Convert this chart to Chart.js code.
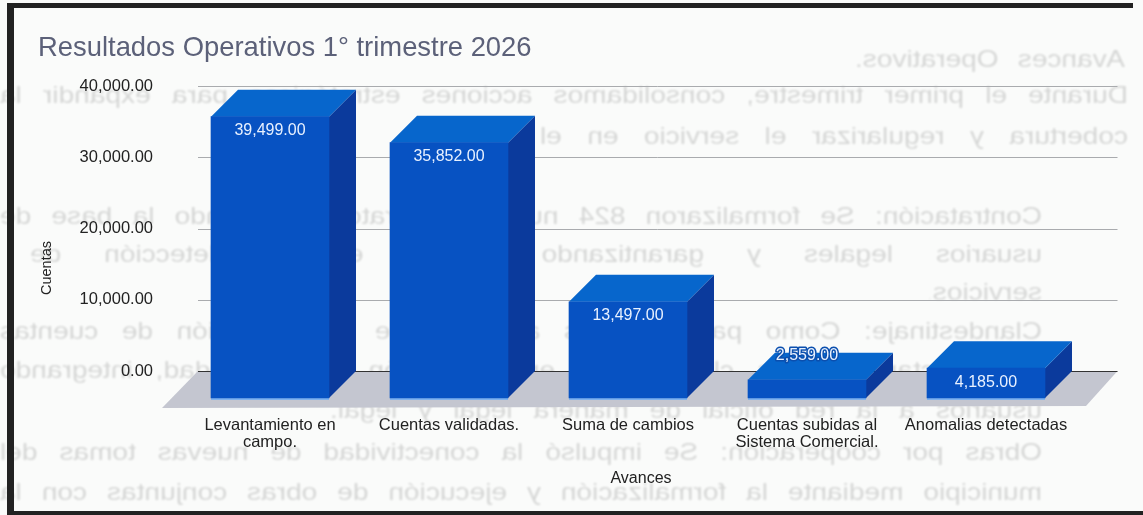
<!DOCTYPE html>
<html lang="es">
<head>
<meta charset="utf-8">
<title>Resultados Operativos 1° trimestre 2026</title>
<script src="https://cdn.jsdelivr.net/npm/chart.js@4"></script>
<style>
html,body{margin:0;padding:0;width:1143px;height:515px;overflow:hidden;background:#fafbfa}
canvas{position:absolute;left:0;top:0;z-index:2}
.ghost{position:absolute;z-index:1;transform-origin:0 0;font:24px "Liberation Sans",Arial,sans-serif;color:#000;opacity:.15;filter:blur(1px);text-align:justify;text-align-last:justify;line-height:30px;height:30px;overflow:hidden}
.frame{position:absolute;background:#222;z-index:3}
</style>
</head>
<body>
<div class="frame" style="left:7px;top:3px;width:7px;height:510px"></div>
<div class="frame" style="left:7px;top:3px;width:1126px;height:5px"></div>
<div class="frame" style="left:7px;top:511px;width:1136px;height:4px"></div>
<canvas id="c" width="1143" height="515"></canvas>
<script>
const categories = [["Levantamiento en","campo."],"Cuentas validadas.","Suma de cambios",["Cuentas subidas al","Sistema Comercial."],"Anomalias detectadas"];
const values = [39499,35852,13497,2559,4185];
const yTicks = [0,10000,20000,30000,40000];
const ghostLines = [
  ["Avances Operativos.",855,270,44],
  ["Durante el primer trimestre, consolidamos acciones estratégicas para expandir la",0,1128,80],
  ["cobertura y regularizar el servicio en el municipio.",540,588,121],
  ["Contratación: Se formalizaron 824 nuevos contratos, ampliando la base de",0,1042,201],
  ["usuarios legales y garantizando certeza en la detección de",30,1012,239],
  ["servicios.",930,112,277],
  ["Clandestinaje: Como parte de las acciones de regularización de cuentas",0,1042,316],
  ["se detectaron tomas clandestinas en el padrón de la ciudad, integrando",0,1042,355],
  ["usuarios a la red oficial de manera legal y legal.",330,712,395],
  ["Obras por cooperación: Se impulsó la conectividad de nuevas tomas del",0,1042,437],
  ["municipio mediante la formalización y ejecución de obras conjuntas con la",0,1042,477]
];
const titleText = "Resultados Operativos 1° trimestre 2026";
const yTitleText = "Cuentas";
const xTitleText = "Avances";
const fontFamily = '"Liberation Sans", Arial, sans-serif';
const STRETCH = 1.17;

ghostLines.forEach(([t,l,w,top])=>{
  const d=document.createElement('div');d.className='ghost';d.textContent=t;
  d.style.left=(l+w)+'px';d.style.width=(w/STRETCH)+'px';d.style.top=top+'px';
  d.style.transform='scaleX(-'+STRETCH+')';
  document.body.appendChild(d);
});

const fmt = v => v.toLocaleString('en-US',{minimumFractionDigits:2,maximumFractionDigits:2});
const DX=-27, DY=27;
const FRONT='#0752c2', TOP='#0766cc', SIDE='#0b3a9c';

const bars3d = {
  id:'bars3d',
  beforeDatasetsDraw(chart){
    const {ctx,scales:{y},chartArea:a}=chart, y0=y.getPixelForValue(0);
    ctx.save();
    ctx.fillStyle='#c4c6d0';
    ctx.beginPath();
    ctx.moveTo(a.left-9.5,y0);ctx.lineTo(a.right+15,y0);ctx.lineTo(a.right-16.5,y0+35);ctx.lineTo(a.left-45.5,y0+37);ctx.closePath();ctx.fill();
    ctx.lineWidth=1;
    y.ticks.forEach(t=>{
      const p=Math.round(y.getPixelForValue(t.value))+.5;
      ctx.strokeStyle=t.value===0?'#333':'#a9abae';
      ctx.beginPath();ctx.moveTo(a.left-9.5,p);ctx.lineTo(a.right+15,p);ctx.stroke();
    });
    ctx.restore();
  },
  beforeDatasetDraw(chart,args){
    const {ctx}=chart;
    ctx.save();
    args.meta.data.forEach(el=>{
      const p=el.getProps(['x','y','base','width'],true);
      const l=p.x-p.width/2,r=p.x+p.width/2;
      ctx.fillStyle='#7fb2ee';
      ctx.fillRect(l+DX,p.base+DY,p.width,2);
      ctx.fillStyle=SIDE;
      ctx.beginPath();ctx.moveTo(r,p.y);ctx.lineTo(r,p.base);ctx.lineTo(r+DX,p.base+DY);ctx.lineTo(r+DX,p.y+DY);ctx.closePath();ctx.fill();
      ctx.fillStyle=TOP;
      ctx.beginPath();ctx.moveTo(l,p.y);ctx.lineTo(r,p.y);ctx.lineTo(r+DX,p.y+DY);ctx.lineTo(l+DX,p.y+DY);ctx.closePath();ctx.fill();
    });
    ctx.restore();
    ctx.save();
    ctx.translate(DX,DY);
  },
  afterDatasetDraw(chart){ chart.ctx.restore(); },
  afterDatasetsDraw(chart){
    const {ctx}=chart, meta=chart.getDatasetMeta(0);
    ctx.save();
    ctx.textAlign='center';ctx.textBaseline='middle';ctx.font='16px '+fontFamily;
    meta.data.forEach((el,i)=>{
      const p=el.getProps(['x','y','base'],true);
      const short=(p.base-p.y)<25;
      const tx=p.x+DX, ty=short?p.y+DY-24:p.y+DY+14;
      const s=fmt(values[i]);
      if(short){ctx.strokeStyle='#0b4fae';ctx.lineWidth=3;ctx.lineJoin='round';ctx.strokeText(s,tx,ty);}
      ctx.fillStyle='#e8f1ff';
      ctx.fillText(s,tx,ty);
    });
    ctx.fillStyle='#222';ctx.font='16px '+fontFamily;
    ctx.fillText(xTitleText,641,479);
    ctx.font='14.5px '+fontFamily;
    ctx.translate(47,268);ctx.rotate(-Math.PI/2);
    ctx.fillText(yTitleText,0,0);
    ctx.restore();
  }
};

new Chart(document.getElementById('c'),{
  type:'bar',
  data:{labels:categories,datasets:[{data:values,backgroundColor:FRONT,borderWidth:0,barThickness:118,clip:false}]},
  plugins:[bars3d],
  options:{
    responsive:false,animation:false,devicePixelRatio:1,
    layout:{padding:{left:38,right:40.5,top:0,bottom:0}},
    plugins:{
      legend:{display:false},tooltip:{enabled:false},
      title:{display:true,text:titleText,align:'start',color:'#5c6179',
        font:{family:fontFamily,size:27.4,weight:'normal',lineHeight:1.2},
        padding:{top:32,bottom:21.2}}
    },
    scales:{
      x:{type:'category',grid:{display:false},border:{display:false},
        afterFit(s){s.height=144;},
        ticks:{autoSkip:false,maxRotation:0,minRotation:0,labelOffset:DX,padding:38,color:'#222',
          font:{family:fontFamily,size:16.5,lineHeight:1.02}}},
      y:{min:0,max:40000,grid:{display:false,drawTicks:false},border:{display:false},
        afterBuildTicks(s){s.ticks=yTicks.map(v=>({value:v}));},
        afterFit(s){s.width=169.5;},
        ticks:{padding:54.5,color:'#222',callback:fmt,font:{family:fontFamily,size:16.5}}}
    }
  }
});
</script>
</body>
</html>
